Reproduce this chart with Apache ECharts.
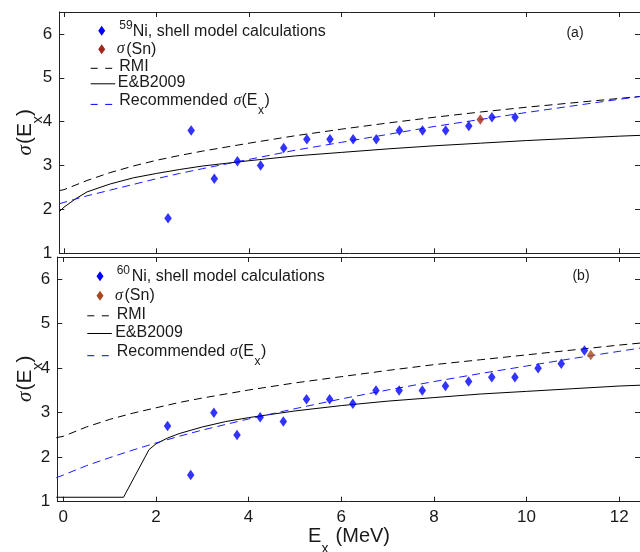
<!DOCTYPE html>
<html>
<head>
<meta charset="utf-8">
<script src="https://cdn.jsdelivr.net/npm/echarts@6/dist/echarts.min.js"></script>
<style>
html, body { margin: 0; padding: 0; background: #fff; }
#chart { width: 640px; height: 552px; }
</style>
</head>
<body>
<div id="chart"></div>
<script>
// ---- 59Ni: shell model spin cutoff values (Ex in MeV) ----
const ex59 = [2.25, 2.75, 3.25, 3.75, 4.25, 4.75, 5.25, 5.75, 6.25, 6.75, 7.25, 7.75, 8.25, 8.75, 9.25, 9.75];
const sig59 = [1.8, 3.8, 2.7, 3.1, 3.0, 3.4, 3.6, 3.6, 3.6, 3.6, 3.8, 3.8, 3.8, 3.9, 4.1, 4.1];
const snEx59 = [8.999];
const snSig59 = [4.05];

// ---- 60Ni: shell model spin cutoff values ----
const ex60 = [2.25, 2.75, 3.25, 3.75, 4.25, 4.75, 5.25, 5.75, 6.25, 6.75, 7.25, 7.75, 8.25, 8.75, 9.25, 9.75, 10.25, 10.75, 11.25];
const sig60 = [2.7, 1.6, 3.0, 2.5, 2.9, 2.8, 3.3, 3.3, 3.2, 3.5, 3.5, 3.5, 3.6, 3.7, 3.8, 3.8, 4.0, 4.1, 4.4];
const snEx60 = [11.388];
const snSig60 = [4.3];

// ---- model curves, 59Ni ----
const curveEx59 = [-0.1, 0, 0.5, 1, 1.5, 2, 2.5, 3, 4, 5, 6, 7, 8, 9, 10, 11, 12, 12.5];
const rmi59 = [2.43, 2.45, 2.66, 2.84, 2.99, 3.12, 3.23, 3.33, 3.51, 3.68, 3.83, 3.97, 4.10, 4.22, 4.33, 4.43, 4.53, 4.58];
const rec59 = [2.13, 2.16, 2.31, 2.44, 2.57, 2.70, 2.82, 2.93, 3.14, 3.35, 3.53, 3.71, 3.89, 4.05, 4.21, 4.36, 4.51, 4.58];
const ebEx59 = [-0.1, 0, 0.25, 0.5, 1, 1.5, 2, 2.5, 3, 4, 5, 6, 7, 8, 9, 10, 11, 12, 12.5];
const eb59 = [1.95, 2.05, 2.24, 2.40, 2.58, 2.72, 2.82, 2.91, 2.99, 3.11, 3.22, 3.30, 3.38, 3.45, 3.51, 3.57, 3.62, 3.67, 3.69];

// ---- model curves, 60Ni ----
const curveEx60 = [-0.15, 0, 0.5, 1, 1.5, 2, 2.5, 3, 4, 5, 6, 7, 8, 9, 10, 11, 12, 12.5];
const rmi60 = [2.44, 2.47, 2.68, 2.85, 2.99, 3.11, 3.23, 3.33, 3.51, 3.67, 3.81, 3.95, 4.08, 4.19, 4.30, 4.41, 4.52, 4.57];
const rec60 = [1.54, 1.60, 1.81, 1.99, 2.16, 2.32, 2.47, 2.61, 2.86, 3.09, 3.31, 3.51, 3.70, 3.88, 4.05, 4.22, 4.38, 4.46];
const ebEx60 = [-0.15, 1.3, 1.85, 2.0, 2.25, 2.5, 3, 3.5, 4, 5, 6, 7, 8, 9, 10, 11, 12, 12.5];
const eb60 = [1.1, 1.1, 2.17, 2.3, 2.43, 2.53, 2.68, 2.8, 2.89, 3.04, 3.16, 3.26, 3.34, 3.42, 3.48, 3.54, 3.60, 3.62];

// ---- tick labels ----
const xTicks = [0, 2, 4, 6, 8, 10, 12];
const yTicks = [1, 2, 3, 4, 5, 6];

const SANS = '"Liberation Sans", Arial, Helvetica, sans-serif';
const SERIF = '"Liberation Serif", "Times New Roman", serif';
const INK = '#1a1a1a';
const AXIS = '#222';
const BLUE = '#0000ff';
const DASH = [8, 5];

const pairs = (xs, ys) => xs.map((x, i) => [x, ys[i]]);

function xAxis(grid, pos, min, labels) {
  return {
    type: 'value', gridIndex: grid, position: pos, min: min, max: 12.45,
    axisLine: { show: true, onZero: false, lineStyle: { color: AXIS, width: 1 } },
    axisTick: { show: true, inside: true, length: 5, customValues: xTicks, lineStyle: { color: AXIS, width: 1 } },
    axisLabel: { show: labels, customValues: xTicks, margin: 7, fontSize: 17, fontFamily: SANS, color: INK },
    splitLine: { show: false }
  };
}
function yAxis(grid, pos, labels) {
  return {
    type: 'value', gridIndex: grid, position: pos, min: 1, max: 6.5,
    axisLine: { show: true, onZero: false, lineStyle: { color: AXIS, width: 1 } },
    axisTick: { show: true, inside: true, length: 5, customValues: yTicks, lineStyle: { color: AXIS, width: 1 } },
    axisLabel: { show: labels, customValues: yTicks, margin: 7, fontSize: 17, fontFamily: SANS, color: INK },
    splitLine: { show: false }
  };
}

function lineSeries(name, xi, yi, xs, ys, color, dashed) {
  return {
    name: name, type: 'line', xAxisIndex: xi, yAxisIndex: yi,
    data: pairs(xs, ys), symbol: 'none', showSymbol: false,
    smooth: false, clip: true, z: 2,
    lineStyle: { color: color, width: 1, type: dashed ? DASH : 'solid' }
  };
}
function dotSeries(name, xi, yi, xs, ys, color, size) {
  return {
    name: name, type: 'scatter', xAxisIndex: xi, yAxisIndex: yi,
    data: pairs(xs, ys), symbol: 'diamond', symbolSize: size, z: 4,
    itemStyle: { color: color }
  };
}

// ---- legend / annotation helpers ----
function txt(x, y, s, size, extra) {
  return {
    type: 'text', x: x, y: y, silent: true, z: 10,
    style: Object.assign({ text: s, fontSize: size, fontFamily: SANS, fill: INK, align: 'left', verticalAlign: 'middle' }, extra || {})
  };
}
function diamond(cx, cy, color) {
  return {
    type: 'polygon', silent: true, z: 10,
    shape: { points: [[cx, cy - 5], [cx + 3.5, cy], [cx, cy + 5], [cx - 3.5, cy]] },
    style: { fill: color }
  };
}
function seg(x1, x2, y, color, dash) {
  return {
    type: 'line', silent: true, z: 10,
    shape: { x1: x1, y1: y, x2: x2, y2: y },
    style: { stroke: color, lineWidth: 1, lineDash: dash || null }
  };
}
const sigmaStyle = { fontFamily: SERIF, fontStyle: 'italic' };

function legendBlock(o) {
  return [
    diamond(o.dx, o.r1, BLUE),
    txt(o.supX, o.r1 - 5.5, o.mass, 12),
    txt(o.niX, o.r1 + 0.5, 'Ni, shell model calculations', 16),
    diamond(o.dx, o.r2, o.snColor),
    txt(o.sgX, o.r2, 'σ', 16, sigmaStyle),
    txt(o.sgX + 9.5, o.r2, '(Sn)', 16),
    seg(o.lx, o.lx + 22, o.r3 + 1.5, '#000', [7, 7.5]),
    txt(o.tx, o.r3, 'RMI', 16),
    seg(o.lx, o.lx + 24.5, o.r4 + 1.2, '#000'),
    txt(o.tx - 1.5, o.r4, 'E&B2009', 16),
    seg(o.lx, o.lx + 22, o.r5 + 4, BLUE, [7, 7.5]),
    txt(o.tx, o.r5, 'Recommended', 16),
    txt(o.recX, o.r5, 'σ', 16, sigmaStyle),
    txt(o.recX + 8, o.r5, '(E', 16),
    txt(o.recX + 24.5, o.r5 + 10, 'x', 12),
    txt(o.recX + 31, o.r5, ')', 16)
  ];
}

function yTitle(cx, cy) {
  return {
    type: 'group', x: cx, y: cy, rotation: Math.PI / 2, silent: true,
    children: [
      txt(-23, 0, 'σ', 21, sigmaStyle),
      txt(-11.5, 0, '(E', 21),
      txt(9, 13, 'x', 15),
      txt(16.5, 0, ')', 21)
    ]
  };
}

const graphics = [].concat(
  legendBlock({ dx: 101.7, supX: 119.3, niX: 132.7, mass: '59', snColor: '#a3261c', sgX: 116.7,
                lx: 90.7, tx: 119.3, recX: 233.5, r1: 30.8, r2: 49.2, r3: 66.8, r4: 82.6, r5: 100.4 }),
  legendBlock({ dx: 100, supX: 116.7, niX: 131.7, mass: '60', snColor: '#a8481e', sgX: 115,
                lx: 87.3, tx: 116.7, recX: 230, r1: 276.2, r2: 295.7, r3: 314.3, r4: 332.3, r5: 351.7 }),
  [
    txt(575, 33, '(a)', 14, { align: 'center' }),
    txt(581, 276, '(b)', 14, { align: 'center' }),
    yTitle(25, 132.5),
    yTitle(25, 379),
    txt(308, 536, 'E', 20),
    txt(321.6, 549, 'x', 14),
    txt(330, 536, ' (MeV)', 20)
  ]
);

const chart = echarts.init(document.getElementById('chart'), null, { renderer: 'canvas' });
chart.setOption({
  animation: false,
  backgroundColor: '#fff',
  grid: [
    { left: 59.3, top: 12, width: 580.8, height: 241.3 },
    { left: 57.3, top: 257, width: 584.1, height: 244.7 }
  ],
  xAxis: [
    xAxis(0, 'bottom', -0.1, false),
    xAxis(0, 'top', -0.1, false),
    xAxis(1, 'bottom', -0.13, true),
    xAxis(1, 'top', -0.13, false)
  ],
  yAxis: [
    yAxis(0, 'left', true),
    yAxis(0, 'right', false),
    yAxis(1, 'left', true),
    yAxis(1, 'right', false)
  ],
  series: [
    lineSeries('RMI 59', 0, 0, curveEx59, rmi59, '#000', true),
    lineSeries('E&B2009 59', 0, 0, ebEx59, eb59, '#000', false),
    lineSeries('Recommended 59', 0, 0, curveEx59, rec59, '#1a1aff', true),
    dotSeries('59Ni shell model', 0, 0, ex59, sig59, BLUE, [7.5, 10.5]),
    dotSeries('sigma(Sn) 59', 0, 0, snEx59, snSig59, '#a3261c', [7.5, 10.5]),

    lineSeries('RMI 60', 2, 2, curveEx60, rmi60, '#000', true),
    lineSeries('E&B2009 60', 2, 2, ebEx60, eb60, '#000', false),
    lineSeries('Recommended 60', 2, 2, curveEx60, rec60, '#1a1aff', true),
    dotSeries('60Ni shell model', 2, 2, ex60, sig60, BLUE, [7.5, 10.5]),
    dotSeries('sigma(Sn) 60', 2, 2, snEx60, snSig60, '#a8481e', [7.5, 10.5])
  ],
  graphic: graphics
});
</script>
</body>
</html>
